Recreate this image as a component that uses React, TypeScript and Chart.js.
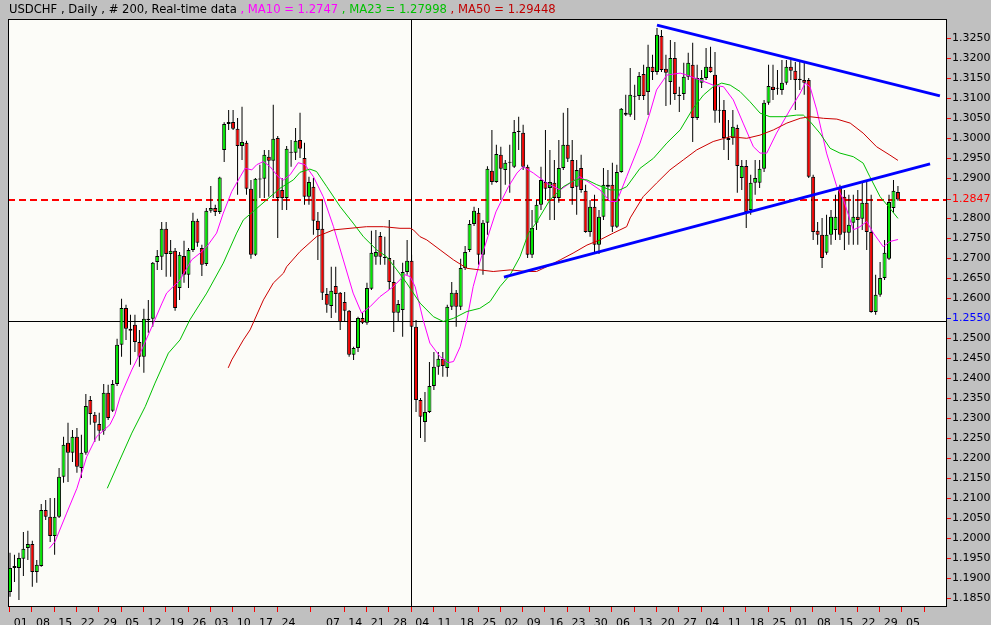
import React, { useEffect, useRef } from "react";
import { Chart, registerables } from "chart.js";

Chart.register(...registerables);

// ---- candle data (USDCHF daily, 200 bars) ----
const opens = [
  1.1866, 1.1926, 1.1926, 1.1949, 1.1976, 1.1986, 1.1916, 1.1931, 1.2071, 1.2054,
  1.2006, 1.2054, 1.2154, 1.2239, 1.2214, 1.2254, 1.2176, 1.2214, 1.2346, 1.2309,
  1.2286, 1.2269, 1.2364, 1.2319, 1.2386, 1.2484, 1.2576, 1.2524, 1.2534, 1.2491,
  1.2454, 1.2549, 1.2549, 1.2691, 1.2704, 1.2774, 1.2711, 1.2719, 1.2626, 1.2706,
  1.2659, 1.2721, 1.2794, 1.2726, 1.2686, 1.2819, 1.2826, 1.2816, 1.2971, 1.3036,
  1.3041, 1.3024, 1.2981, 1.2989, 1.2874, 1.2709, 1.2899, 1.2899, 1.2954, 1.2944,
  1.3001, 1.2871, 1.2851, 1.2964, 1.2964, 1.2996, 1.2951, 1.2854, 1.2879, 1.2794,
  1.2774, 1.2611, 1.2581, 1.2631, 1.2614, 1.2591, 1.2569, 1.2459, 1.2476, 1.2551,
  1.2539, 1.2624, 1.2704, 1.2756, 1.2704, 1.2701, 1.2641, 1.2564, 1.2571, 1.2666,
  1.2694, 1.2529, 1.2346, 1.2291, 1.2316, 1.2381, 1.2429, 1.2449, 1.2426, 1.2579,
  1.2614, 1.2579, 1.2676, 1.2721, 1.2786, 1.2814, 1.2709, 1.2789, 1.2919, 1.2891,
  1.2959, 1.2921, 1.2939, 1.2929, 1.3016, 1.3014, 1.2929, 1.2709, 1.2789, 1.2834,
  1.2891, 1.2876, 1.2889, 1.2851, 1.2926, 1.2984, 1.2946, 1.2879, 1.2926, 1.2869,
  1.2766, 1.2829, 1.2734, 1.2804, 1.2884, 1.2884, 1.2779, 1.2916, 1.3064, 1.3059,
  1.3106, 1.3106, 1.3161, 1.3116, 1.3179, 1.3166, 1.3256, 1.3174, 1.3141, 1.3201,
  1.3109, 1.3111, 1.3154, 1.3184, 1.3051, 1.3139, 1.3151, 1.3179, 1.3159, 1.3069,
  1.3071, 1.3001, 1.3001, 1.3026, 1.2901, 1.2931, 1.2821, 1.2889, 1.2889, 1.2924,
  1.3089, 1.3129, 1.3124, 1.3121, 1.3139, 1.3179, 1.3169, 1.3146, 1.3146, 1.3146,
  1.2904, 1.2769, 1.2759, 1.2714, 1.2759, 1.2771, 1.2876, 1.2854, 1.2764, 1.2789,
  1.2804, 1.2799, 1.2839, 1.2766, 1.2566, 1.2609, 1.2651, 1.2699, 1.2826, 1.2866,
];
const highs = [
  1.1964, 1.1959, 1.1964, 1.2016, 1.2019, 1.1994, 1.1946, 1.2086, 1.2096, 1.2101,
  1.2101, 1.2176, 1.2254, 1.2289, 1.2271, 1.2276, 1.2259, 1.2361, 1.2356, 1.2316,
  1.2314, 1.2386, 1.2384, 1.2396, 1.2499, 1.2599, 1.2584, 1.2559, 1.2559, 1.2521,
  1.2574, 1.2596, 1.2691, 1.2721, 1.2791, 1.2791, 1.2746, 1.2726, 1.2716, 1.2744,
  1.2726, 1.2814, 1.2799, 1.2734, 1.2826, 1.2881, 1.2834, 1.2904, 1.3040, 1.3071,
  1.3071, 1.3051, 1.3079, 1.2994, 1.2896, 1.2901, 1.2934, 1.2971, 1.2971, 1.3084,
  1.3006, 1.2901, 1.2981, 1.2996, 1.3026, 1.3064, 1.2989, 1.2904, 1.2901, 1.2816,
  1.2846, 1.2626, 1.2679, 1.2679, 1.2616, 1.2616, 1.2571, 1.2479, 1.2554, 1.2564,
  1.2639, 1.2769, 1.2771, 1.2766, 1.2754, 1.2796, 1.2696, 1.2596, 1.2689, 1.2746,
  1.2709, 1.2546, 1.2351, 1.2366, 1.2441, 1.2466, 1.2466, 1.2466, 1.2584, 1.2641,
  1.2621, 1.2699, 1.2731, 1.2796, 1.2829, 1.2826, 1.2796, 1.2930, 1.3021, 1.2984,
  1.2979, 1.2946, 1.2984, 1.3046, 1.3054, 1.3034, 1.2934, 1.2821, 1.2846, 1.2929,
  1.3021, 1.2971, 1.2946, 1.2996, 1.3064, 1.3076, 1.2996, 1.2946, 1.2959, 1.2884,
  1.2846, 1.2859, 1.2821, 1.2926, 1.2921, 1.2939, 1.2934, 1.3076, 1.3109, 1.3176,
  1.3134, 1.3166, 1.3184, 1.3234, 1.3209, 1.3276, 1.3271, 1.3209, 1.3246, 1.3241,
  1.3129, 1.3189, 1.3214, 1.3239, 1.3184, 1.3171, 1.3226, 1.3229, 1.3216, 1.3129,
  1.3096, 1.3046, 1.3071, 1.3034, 1.2946, 1.2946, 1.2909, 1.2946, 1.2946, 1.3096,
  1.3184, 1.3184, 1.3171, 1.3196, 1.3196, 1.3196, 1.3191, 1.3191, 1.3189, 1.3151,
  1.2909, 1.2791, 1.2801, 1.2809, 1.2821, 1.2859, 1.2884, 1.2871, 1.2859, 1.2859,
  1.2871, 1.2891, 1.2891, 1.2859, 1.2659, 1.2691, 1.2746, 1.2859, 1.2896, 1.2881,
];
const lows = [
  1.1854, 1.1891, 1.1846, 1.1906, 1.1946, 1.1879, 1.1889, 1.1929, 1.2046, 1.1991,
  1.1959, 1.2051, 1.2139, 1.2141, 1.2191, 1.2164, 1.2151, 1.2209, 1.2284, 1.2241,
  1.2244, 1.2259, 1.2296, 1.2316, 1.2381, 1.2454, 1.2496, 1.2434, 1.2466, 1.2429,
  1.2414, 1.2514, 1.2529, 1.2671, 1.2671, 1.2654, 1.2654, 1.2569, 1.2596, 1.2639,
  1.2626, 1.2716, 1.2729, 1.2656, 1.2681, 1.2814, 1.2806, 1.2811, 1.2941, 1.3021,
  1.3021, 1.2859, 1.2946, 1.2859, 1.2699, 1.2706, 1.2851, 1.2851, 1.2854, 1.2851,
  1.2751, 1.2821, 1.2821, 1.2929, 1.2946, 1.2951, 1.2834, 1.2834, 1.2759, 1.2696,
  1.2596, 1.2564, 1.2551, 1.2564, 1.2521, 1.2541, 1.2454, 1.2446, 1.2466, 1.2536,
  1.2534, 1.2621, 1.2684, 1.2684, 1.2684, 1.2621, 1.2516, 1.2541, 1.2504, 1.2659,
  1.2521, 1.2316, 1.2251, 1.2241, 1.2313, 1.2371, 1.2409, 1.2404, 1.2404, 1.2571,
  1.2529, 1.2571, 1.2671, 1.2716, 1.2781, 1.2684, 1.2659, 1.2759, 1.2884, 1.2889,
  1.2846, 1.2884, 1.2864, 1.2926, 1.2971, 1.2921, 1.2701, 1.2701, 1.2771, 1.2821,
  1.2846, 1.2796, 1.2796, 1.2839, 1.2921, 1.2941, 1.2834, 1.2809, 1.2864, 1.2764,
  1.2754, 1.2714, 1.2711, 1.2796, 1.2846, 1.2766, 1.2776, 1.2914, 1.3056, 1.3054,
  1.3046, 1.3096, 1.3096, 1.3058, 1.3146, 1.3159, 1.3166, 1.3081, 1.3084, 1.3096,
  1.3066, 1.3096, 1.3146, 1.2991, 1.3046, 1.3126, 1.3146, 1.3164, 1.3039, 1.3039,
  1.2971, 1.2946, 1.2984, 1.2864, 1.2871, 1.2776, 1.2809, 1.2859, 1.2876, 1.2916,
  1.3084, 1.3096, 1.3109, 1.3109, 1.3134, 1.3146, 1.3071, 1.3121, 1.3109, 1.2901,
  1.2746, 1.2734, 1.2676, 1.2709, 1.2734, 1.2746, 1.2746, 1.2721, 1.2734, 1.2734,
  1.2734, 1.2771, 1.2721, 1.2564, 1.2559, 1.2604, 1.2646, 1.2696, 1.2814, 1.2844,
];
const closes = [
  1.1926, 1.1931, 1.1951, 1.1974, 1.1986, 1.1916, 1.1934, 1.2071, 1.2054, 1.2006,
  1.2054, 1.2154, 1.2234, 1.2214, 1.2254, 1.2179, 1.2214, 1.2331, 1.2311, 1.2289,
  1.2269, 1.2364, 1.2301, 1.2386, 1.2484, 1.2576, 1.2524, 1.2519, 1.2491, 1.2454,
  1.2549, 1.2546, 1.2689, 1.2706, 1.2774, 1.2711, 1.2719, 1.2576, 1.2709, 1.2659,
  1.2721, 1.2794, 1.2739, 1.2684, 1.2819, 1.2826, 1.2816, 1.2902, 1.3036, 1.3041,
  1.3024, 1.2981, 1.2991, 1.2874, 1.2709, 1.2899, 1.2897, 1.2959, 1.2944, 1.2999,
  1.2851, 1.2851, 1.2974, 1.2966, 1.2994, 1.2974, 1.2854, 1.2891, 1.2794, 1.2771,
  1.2614, 1.2584, 1.2619, 1.2611, 1.2541, 1.2569, 1.2459, 1.2476, 1.2551, 1.2539,
  1.2626, 1.2714, 1.2716, 1.2704, 1.2701, 1.2641, 1.2564, 1.2586, 1.2666, 1.2694,
  1.2529, 1.2346, 1.2304, 1.2316, 1.2381, 1.2429, 1.2449, 1.2431, 1.2579, 1.2614,
  1.2579, 1.2676, 1.2716, 1.2786, 1.2819, 1.2709, 1.2789, 1.2924, 1.2891, 1.2961,
  1.2924, 1.2939, 1.2941, 1.3016, 1.3019, 1.2929, 1.2709, 1.2776, 1.2834, 1.2896,
  1.2874, 1.2891, 1.2851, 1.2926, 1.2984, 1.2949, 1.2876, 1.2921, 1.2871, 1.2766,
  1.2829, 1.2734, 1.2804, 1.2884, 1.2879, 1.2779, 1.2916, 1.3074, 1.3059, 1.3109,
  1.3104, 1.3156, 1.3106, 1.3179, 1.3166, 1.3259, 1.3171, 1.3164, 1.3201, 1.3111,
  1.3106, 1.3154, 1.3189, 1.3051, 1.3151, 1.3151, 1.3179, 1.3166, 1.3069, 1.3071,
  1.3001, 1.2996, 1.3029, 1.2931, 1.2931, 1.2816, 1.2889, 1.2901, 1.2924, 1.3089,
  1.3131, 1.3121, 1.3126, 1.3139, 1.3179, 1.3169, 1.3146, 1.3149, 1.3139, 1.2904,
  1.2766, 1.2759, 1.2701, 1.2759, 1.2804, 1.2804, 1.2759, 1.2764, 1.2784, 1.2804,
  1.2796, 1.2839, 1.2766, 1.2566, 1.2609, 1.2651, 1.2714, 1.2841, 1.2869, 1.2847,
];

// ---- moving averages: [bar position, value] ----
const ma10 = [
  [8.8, 1.1975], [10.1, 1.1992], [12.7, 1.2063], [15.0, 1.2125], [17.2, 1.2204], [19.4, 1.2254],
  [20.9, 1.2269], [22.4, 1.2284], [23.5, 1.2309], [24.7, 1.2354], [27.3, 1.2421], [29.5, 1.2471],
  [31.8, 1.2529], [34.0, 1.2586], [35.1, 1.2613], [38.1, 1.2646], [40.7, 1.2696], [42.6, 1.2713],
  [44.1, 1.2729], [46.3, 1.2763], [47.8, 1.2813], [49.7, 1.2867], [51.6, 1.2904], [52.7, 1.2925],
  [54.2, 1.2921], [55.3, 1.2934], [56.8, 1.2942], [58.3, 1.2929], [60.1, 1.2904], [61.3, 1.2896],
  [62.8, 1.2909], [64.6, 1.2939], [66.1, 1.2934], [68.0, 1.2904], [70.2, 1.2854], [72.5, 1.2779],
  [74.7, 1.2696], [76.9, 1.2613], [78.8, 1.2563], [80.7, 1.2579], [82.9, 1.2604], [85.9, 1.2629],
  [88.5, 1.2659], [89.7, 1.2654], [90.8, 1.2629], [92.6, 1.2546], [94.1, 1.2488], [96.4, 1.2454],
  [98.2, 1.2439], [99.4, 1.2442], [100.9, 1.2479], [102.4, 1.2546], [103.8, 1.2629], [105.3, 1.2691],
  [107.1, 1.2754], [108.9, 1.2816], [111.7, 1.2879], [113.6, 1.2913], [115.0, 1.2929], [117.3, 1.2913],
  [120.3, 1.2888], [123.3, 1.2871], [125.5, 1.2888], [127.7, 1.2904], [130.0, 1.2888], [132.2, 1.2871],
  [134.5, 1.2842], [136.0, 1.2842], [138.2, 1.2904], [141.2, 1.2988], [143.4, 1.3063], [144.9, 1.3121],
  [147.2, 1.3158], [150.2, 1.3163], [151.7, 1.3158], [154.6, 1.3146], [157.6, 1.3133], [159.9, 1.3129],
  [162.1, 1.3096], [164.3, 1.3038], [166.6, 1.2979], [168.1, 1.2963], [169.6, 1.2963], [171.8, 1.3013],
  [174.8, 1.3071], [177.1, 1.3113], [178.2, 1.3138], [179.3, 1.3129], [180.8, 1.3071], [183.0, 1.2963],
  [185.3, 1.2879], [186.8, 1.2846], [189.0, 1.2771], [190.5, 1.2779], [192.0, 1.2792], [193.5, 1.2763],
  [195.7, 1.2729], [197.2, 1.2742], [199, 1.2747],
];
const ma23 = [
  [21.8, 1.2125], [24.3, 1.2188], [27.3, 1.2263], [30.3, 1.2329], [32.5, 1.2388], [35.5, 1.2463],
  [38.1, 1.2496], [40.3, 1.2546], [44.1, 1.2613], [47.8, 1.2688], [50.8, 1.2763], [52.3, 1.2796],
  [54.5, 1.2817], [57.5, 1.2846], [60.5, 1.2875], [63.5, 1.2896], [65.0, 1.2915], [67.2, 1.2923],
  [68.7, 1.2917], [71.0, 1.2879], [74.0, 1.2829], [76.9, 1.2788], [79.2, 1.2754], [82.2, 1.2721],
  [84.4, 1.2704], [86.7, 1.2671], [88.9, 1.2638], [91.9, 1.2588], [94.9, 1.2554], [97.1, 1.2542],
  [99.4, 1.2550], [102.4, 1.2567], [105.3, 1.2575], [107.6, 1.2592], [109.8, 1.2629], [112.1, 1.2659],
  [114.3, 1.2704], [116.2, 1.2763], [118.0, 1.2790], [121.0, 1.2846], [124.0, 1.2879], [127.0, 1.2898],
  [129.3, 1.2896], [131.5, 1.2884], [134.5, 1.2871], [136.7, 1.2871], [138.2, 1.2879], [141.2, 1.2925],
  [144.2, 1.2950], [147.2, 1.2988], [150.2, 1.3021], [153.1, 1.3075], [155.4, 1.3108], [157.6, 1.3129],
  [159.5, 1.3138], [161.4, 1.3133], [163.6, 1.3117], [165.8, 1.3092], [168.1, 1.3063], [170.3, 1.3054],
  [173.3, 1.3054], [176.3, 1.3058], [177.8, 1.3058], [179.3, 1.3042], [181.5, 1.3013], [183.8, 1.2975],
  [186.0, 1.2963], [189.0, 1.2954], [191.2, 1.2938], [192.7, 1.2904], [195.0, 1.2854], [197.2, 1.2825],
  [199, 1.27998],
];
const ma50 = [
  [48.9, 1.2426], [49.7, 1.2446], [52.3, 1.2496], [53.8, 1.2521], [56.8, 1.2596], [59.0, 1.2638],
  [61.3, 1.2663], [62.0, 1.2679], [65.0, 1.2717], [68.7, 1.2754], [72.5, 1.2771], [76.2, 1.2775],
  [79.9, 1.2779], [83.7, 1.2779], [87.4, 1.2775], [89.7, 1.2775], [90.4, 1.2771], [91.9, 1.2754],
  [93.4, 1.2746], [96.4, 1.2721], [99.4, 1.2696], [102.4, 1.2675], [105.3, 1.2671], [108.3, 1.2667],
  [112.1, 1.2671], [115.8, 1.2667], [118.0, 1.2667], [120.3, 1.2679], [123.3, 1.2696], [126.2, 1.2713],
  [129.3, 1.2733], [132.2, 1.2746], [135.2, 1.2763], [138.2, 1.2779], [139.0, 1.2801], [141.9, 1.2854],
  [144.9, 1.2888], [147.9, 1.2921], [150.9, 1.2946], [153.9, 1.2971], [157.6, 1.2992], [161.4, 1.3004],
  [165.1, 1.3000], [168.1, 1.3008], [171.1, 1.3021], [174.1, 1.3038], [177.1, 1.3050], [179.3, 1.3054],
  [182.3, 1.3050], [185.3, 1.3048], [188.3, 1.3038], [191.2, 1.3013], [194.2, 1.2979], [197.2, 1.2958],
  [199, 1.29448],
];

// ---- trend lines, reference lines ----
const upperTrend = [[145, 1.3283], [208.4, 1.3106]];
const lowerTrend = [[110.7, 1.2653], [206.2, 1.2936]];
const lastPrice = 1.2847;
const crossPrice = 1.2541;
const crossLabel = 1.255;
const crossBar = 89.9;

// ---- axis labels ----
const yTicks = [
  1.325, 1.32, 1.315, 1.31, 1.305, 1.3, 1.295, 1.29, 1.2847, 1.28, 1.275, 1.27, 1.265, 1.26,
  1.255, 1.25, 1.245, 1.24, 1.235, 1.23, 1.225, 1.22, 1.215, 1.21, 1.205, 1.2, 1.195, 1.19, 1.185,
];
const xWeekLabels = [
  "01", "08", "15", "22", "29", "05", "12", "19", "26", "03", "10", "17", "24", "",
  "07", "14", "21", "28", "04", "11", "18", "25", "02", "09", "16", "23", "30",
  "06", "13", "20", "27", "04", "11", "18", "25", "01", "08", "15", "22", "29", "05",
];
const headerParts = [
  ["USDCHF , Daily , # 200, Real-time data", "#000000"],
  [" , MA10 = 1.2747", "#ff00ff"],
  [" , MA23 = 1.27998", "#00c000"],
  [" , MA50 = 1.29448", "#c00000"],
];

const GREEN = "#00e800";
const RED = "#f00000";
const FONT = "DejaVu Sans";

export default function App() {
  const ref = useRef<HTMLCanvasElement | null>(null);

  useEffect(() => {
    document.body.style.margin = "0";
    const canvas = ref.current;
    if (!canvas) return;

    const idx = opens.map((_, i) => i);
    const bodies = idx.map((i) => ({ x: i, y: [opens[i], closes[i]] }));
    const wicks = idx.map((i) => ({ x: i, y: [lows[i], highs[i]] }));
    const bodyColors = idx.map((i) => (closes[i] >= opens[i] ? GREEN : RED));
    const pts = (arr: number[][]) => arr.map(([x, y]) => ({ x, y }));

    const X_MIN = -0.448;
    const X_MAX = 209.77;
    const Y_MIN = 1.182825;
    const Y_MAX = 1.329825;

    const framePlugin = {
      id: "frame",
      beforeDraw(chart: any) {
        const { ctx, chartArea: a, width, height } = chart;
        ctx.save();
        ctx.fillStyle = "#c0c0c0";
        ctx.fillRect(0, 0, width, height);
        ctx.fillStyle = "#fcfcf8";
        ctx.fillRect(a.left, a.top, a.right - a.left, a.bottom - a.top);
        ctx.restore();
      },
      beforeDatasetsDraw(chart: any) {
        // reference lines: last price (red dashed) and crosshair (black), placed via the scales
        const { ctx, chartArea: a, scales } = chart;
        const yLast = Math.round(scales.y.getPixelForValue(lastPrice));
        const yCross = Math.floor(scales.y.getPixelForValue(crossPrice)) + 0.5;
        const xCross = Math.floor(scales.x.getPixelForValue(crossBar)) + 0.5;
        ctx.save();
        ctx.beginPath();
        ctx.rect(a.left, a.top, a.right - a.left, a.bottom - a.top);
        ctx.clip();
        ctx.lineWidth = 1;
        ctx.strokeStyle = "#000000";
        ctx.beginPath();
        ctx.moveTo(a.left, yCross);
        ctx.lineTo(a.right, yCross);
        ctx.moveTo(xCross, a.top);
        ctx.lineTo(xCross, a.bottom);
        ctx.stroke();
        ctx.strokeStyle = "#ff0000";
        ctx.lineWidth = 2;
        ctx.setLineDash([7, 4]);
        ctx.beginPath();
        ctx.moveTo(a.left, yLast);
        ctx.lineTo(a.right, yLast);
        ctx.stroke();
        ctx.restore();
      },
      afterDraw(chart: any) {
        const { ctx, chartArea: a } = chart;
        ctx.save();
        ctx.strokeStyle = "#000";
        ctx.lineWidth = 1;
        ctx.strokeRect(a.left + 0.5, a.top + 0.5, a.right - a.left, a.bottom - a.top - 1);
        ctx.font = `11.6px "${FONT}"`;
        ctx.textBaseline = "alphabetic";
        let x = 9;
        for (const [t, c] of headerParts) {
          ctx.fillStyle = c;
          ctx.fillText(t, x, 13);
          x += ctx.measureText(t).width;
        }
        ctx.restore();
      },
    };

    const chart = new Chart(canvas, {
      type: "bar",
      data: {
        datasets: [
          {
            type: "bar",
            data: wicks,
            backgroundColor: "#000000",
            borderWidth: 0,
            barThickness: 1,
            grouped: false,
            inflateAmount: 0,
            order: 5,
          },
          {
            type: "bar",
            data: bodies,
            backgroundColor: bodyColors,
            borderColor: "#000000",
            borderWidth: 1,
            borderSkipped: false,
            barThickness: 4,
            minBarLength: 1,
            grouped: false,
            inflateAmount: 0,
            order: 4,
          },
          {
            type: "line",
            data: pts(ma50),
            borderColor: "#cc0000",
            borderWidth: 1,
            pointRadius: 0,
            order: 3,
          },
          {
            type: "line",
            data: pts(ma23),
            borderColor: "#00c000",
            borderWidth: 1,
            pointRadius: 0,
            order: 3,
          },
          {
            type: "line",
            data: pts(ma10),
            borderColor: "#ff00ff",
            borderWidth: 1,
            pointRadius: 0,
            order: 3,
          },
          {
            type: "line",
            data: pts(upperTrend),
            borderColor: "#0000ff",
            borderWidth: 3,
            pointRadius: 0,
            order: 1,
          },
          {
            type: "line",
            data: pts(lowerTrend),
            borderColor: "#0000ff",
            borderWidth: 3,
            pointRadius: 0,
            order: 1,
          },
        ] as any,
      },
      options: {
        responsive: false,
        animation: false,
        devicePixelRatio: 1,
        events: [],
        layout: { padding: { left: 8, top: 19, right: 0, bottom: 0 } },
        plugins: { legend: { display: false }, tooltip: { enabled: false }, title: { display: false } },
        scales: {
          x: {
            type: "linear",
            position: "bottom",
            min: X_MIN,
            max: X_MAX,
            offset: false,
            afterBuildTicks: (scale: any) => {
              scale.ticks = xWeekLabels
                .map((lab, k) => ({ value: 2.4 + 5 * k, lab }))
                .filter((t) => t.lab !== "");
            },
            afterFit: (scale: any) => {
              scale.height = 18;
            },
            ticks: {
              autoSkip: false,
              maxRotation: 0,
              minRotation: 0,
              padding: 5,
              color: "#000000",
              font: { family: FONT, size: 11 },
              callback: function (this: any, _v: any, i: number) {
                return this.ticks[i] ? this.ticks[i].lab : "";
              },
            },
            grid: {
              drawOnChartArea: false,
              drawTicks: true,
              tickLength: 5,
              tickColor: "#ff0000",
              color: "#ff0000",
            },
            border: { display: false },
          },
          y: {
            type: "linear",
            position: "right",
            min: Y_MIN,
            max: Y_MAX,
            afterBuildTicks: (scale: any) => {
              scale.ticks = yTicks.map((v) => ({ value: v }));
            },
            afterFit: (scale: any) => {
              scale.width = 45;
            },
            ticks: {
              padding: 1,
              font: { family: FONT, size: 11 },
              color: (c: any) =>
                Math.abs(c.tick.value - lastPrice) < 1e-7
                  ? "#ff0000"
                  : Math.abs(c.tick.value - crossLabel) < 1e-7
                  ? "#0000ff"
                  : "#000000",
              callback: (v: any) => Number(v).toFixed(4),
            },
            grid: {
              drawOnChartArea: false,
              drawTicks: true,
              tickLength: 5,
              tickColor: (c: any) =>
                c.tick && Math.abs(c.tick.value - crossLabel) < 1e-7 ? "#0000ff" : "#ff0000",
              color: "#ff0000",
            },
            border: { display: false },
          },
        },
      } as any,
      plugins: [framePlugin],
    });

    return () => chart.destroy();
  }, []);

  return (
    <div style={{ position: "absolute", left: 0, top: 0, width: 991, height: 625 }}>
      <canvas ref={ref} width={991} height={625} style={{ display: "block", width: 991, height: 625 }} />
    </div>
  );
}
